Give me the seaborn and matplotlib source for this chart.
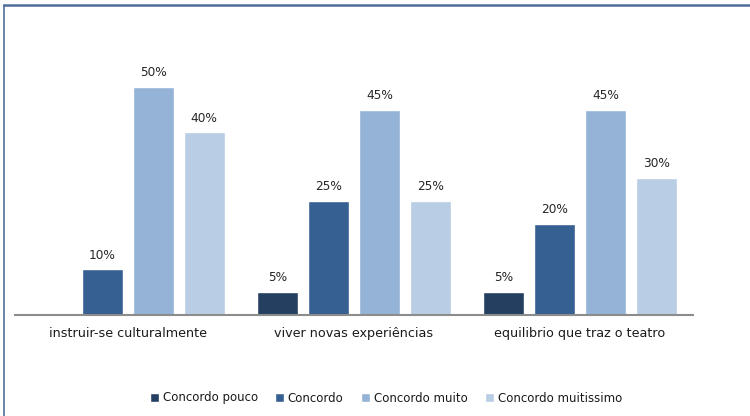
import matplotlib
matplotlib.use("Agg")
import matplotlib.pyplot as plt
from matplotlib.lines import Line2D
import seaborn as sns
import pandas as pd

categories = ["instruir-se culturalmente", "viver novas experiências", "equilibrio que traz o teatro"]
series = ["Concordo pouco", "Concordo", "Concordo muito", "Concordo muitissimo"]
pouco = [0, 5, 5]
concordo = [10, 25, 20]
muito = [50, 45, 45]
muitissimo = [40, 25, 30]
colors = ["#243F60", "#376092", "#95B3D7", "#B9CDE5"]

rows = []
for s, vals in zip(series, [pouco, concordo, muito, muitissimo]):
    for c, v in zip(categories, vals):
        rows.append({"categoria": c, "resposta": s, "valor": v})
df = pd.DataFrame(rows)

sns.set_theme(style="white")
plt.rcParams["font.family"] = ["Liberation Sans Narrow", "DejaVu Sans"]

fig = plt.figure(figsize=(7.5, 4.16), dpi=100)
ax = fig.add_axes([0.02, 0.243, 0.904, 0.658])

sns.barplot(data=df, x="categoria", y="valor", hue="resposta", order=categories,
            hue_order=series, palette=colors, width=0.9, gap=0.19,
            saturation=1, ax=ax, legend=True)

ax.set_ylim(0, 60)
ax.set_xlim(-0.5, 2.5)
ax.set_xlabel("")
ax.set_ylabel("")
ax.set_yticks([])
for side in ["top", "left", "right"]:
    ax.spines[side].set_visible(False)
ax.spines["bottom"].set_color("#8C8C8C")
ax.spines["bottom"].set_linewidth(1.5)
ax.tick_params(axis="x", length=0, pad=9, labelsize=9.2, labelcolor="#1a1a1a")

# value labels above every non-empty bar
for container in ax.containers:
    for bar in container:
        h = bar.get_height()
        if h > 0:
            ax.annotate(f"{h:.0f}%", (bar.get_x() + bar.get_width() / 2, h),
                        xytext=(0, 5.5), textcoords="offset points",
                        ha="center", va="bottom", fontsize=8.7, color="#262626")

leg = ax.legend(loc="center", bbox_to_anchor=(386 / 750, 18 / 416),
                bbox_transform=fig.transFigure, ncol=4, frameon=False,
                fontsize=8.5, handlelength=0.75, handleheight=0.75,
                handletextpad=0.3, columnspacing=1.5)
for t in leg.get_texts():
    t.set_color("#1a1a1a")

# outer frame lines along top and left edges
fig.add_artist(Line2D([4 / 750, 1], [1 - 5 / 416, 1 - 5 / 416], transform=fig.transFigure,
                      color="#4F6E9A", lw=1.8))
fig.add_artist(Line2D([4 / 750, 4 / 750], [0, 1 - 5 / 416], transform=fig.transFigure,
                      color="#4F6E9A", lw=1.2))

fig.savefig("out.png", dpi=100)
